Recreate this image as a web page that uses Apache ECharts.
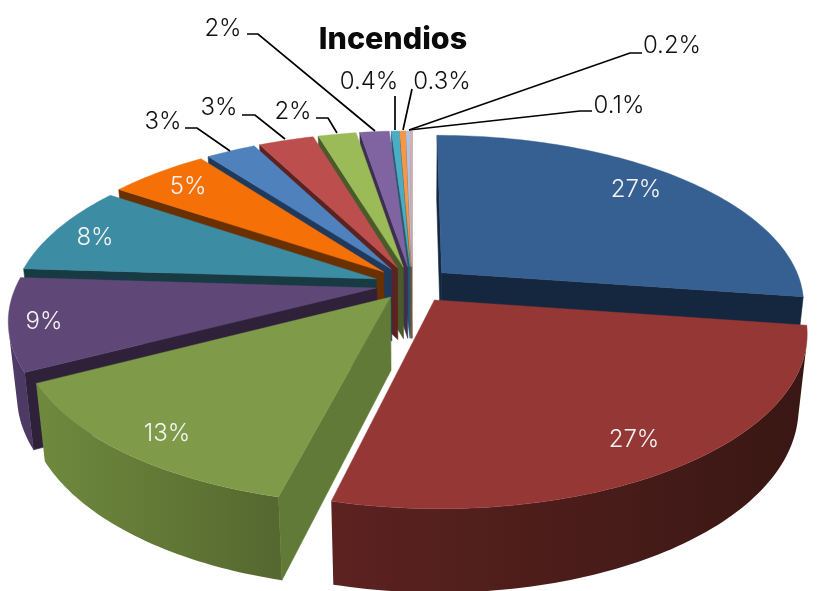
<!DOCTYPE html>
<html><head><meta charset="utf-8">
<style>html,body{margin:0;padding:0;background:#fff}#c{width:821px;height:591px}</style>
<script src="https://cdn.jsdelivr.net/npm/echarts@6/dist/echarts.min.js"></script>
</head><body><div id="c"></div>
<script>
// ---- data ----
const titleText = 'Incendios';
const sliceValues = [27.3, 26.6, 13.39, 8.7, 8.49, 5.3, 2.65, 2.95, 2.03, 1.57, 0.4, 0.3, 0.2, 0.1];
const sliceLabels = ['27%','27%','13%','9%','8%','5%','3%','3%','2%','2%','0.4%','0.3%','0.2%','0.1%'];

// ---- styles ----
const topColors  = ['#376092','#953735','#7F9A48','#5F4878','#3C8CA4','#F57007','#4F81BD','#BC4F4D','#9BBB59','#8064A2','#4BACC6','#F79646','#AFC3E0','#DDB0B0'];
const faceColors = ['#14273F','#3A1715','#627A38','#2E2139','#173A43','#6B3000','#1F3A5C','#5A2321','#4A5A28','#3E2F50','#235B69','#8A4A10','#50607A','#7A5050'];
const sideStart  = ['#14273F','#371613','#55682F','#4C3A64','#173A43','#6B3000','#1F3A5C','#5A2321','#4A5A28','#3E2F50','#235B69','#8A4A10','#50607A','#7A5050'];
const sideEnd    = ['#14273F','#5C2220','#6F8A3E','#54416F','#173A43','#6B3000','#1F3A5C','#5A2321','#4A5A28','#3E2F50','#235B69','#8A4A10','#50607A','#7A5050'];
const explodeBy  = [0.11,0.11,0.095,0.10,0.105,0.11,0.11,0.11,0.11,0.11,0.11,0.11,0.11,0.11];
// text anchor (centre) and leader-line route per label; no line = inside label
const labelLayout = [
  {x:636,y:189.5,c:'#f4f4f4'},{x:634,y:439.5,c:'#f4f4f4'},{x:167,y:433.5,c:'#f4f4f4'},{x:44,y:321.5,c:'#f4f4f4'},
  {x:95,y:237.5,c:'#f4f4f4'},{x:188,y:186.5,c:'#f4f4f4'},
  {x:163,y:121.5,line:[[185,128],[197,128],[230,151]]},
  {x:219,y:107.5,line:[[242,115],[255,115],[285,139]]},
  {x:293,y:111.5,line:[[316,118],[328,118],[337,133]]},
  {x:223,y:28.5,line:[[247,34],[258,34],[375,131]]},
  {x:369,y:81.5,line:[[395,96],[395,130]]},
  {x:442,y:81.5,line:[[412,89],[403,130]]},
  {x:672,y:45.5,line:[[642,53],[630,53],[409,130]]},
  {x:619,y:105.5,line:[[592,111],[580,111],[409,130]]}
];
const cam = {cx:412, cy:284.5, K:360, D:5, tilt:27.4, height:0.232};
const font = '300 24px Inter, "Open Sans", sans-serif';

const total = sliceValues.reduce((a,b)=>a+b,0);
const s = Math.sin(cam.tilt*Math.PI/180), c = Math.cos(cam.tilt*Math.PI/180), f = cam.K*cam.D;
function proj(X,Y,Z){
  const d = cam.D - Y*c - Z*s;
  return [cam.cx + f*X/d, cam.cy + f*(Y*s - Z*c)/d];
}
function area(p){let a=0;for(let i=0;i<p.length;i++){const q=p[(i+1)%p.length];a+=p[i][0]*q[1]-q[0]*p[i][1];}return a;}
function hex(h){return [1,3,5].map(i=>parseInt(h.substr(i,2),16));}
function lerp(a,b,t){const A=hex(a),B=hex(b);return 'rgb('+A.map((v,i)=>Math.round(v+(B[i]-v)*t)).join(',')+')';}

let acc=0;
const wedges = sliceValues.map((v,i)=>{const a0=acc/total*2*Math.PI;acc+=v;const a1=acc/total*2*Math.PI;return {i,a0,a1,mid:(a0+a1)/2};});
const order = wedges.slice().sort((p,q)=>(-Math.cos(p.mid))-(-Math.cos(q.mid))).map(w=>w.i);

function renderSlice(params, api){
  const w = wedges[api.value(0)], i = w.i;
  const ex = explodeBy[i]*Math.sin(w.mid), ey = -explodeBy[i]*Math.cos(w.mid);
  const P=(r,a,z)=>proj(ex+r*Math.sin(a), ey-r*Math.cos(a), z);
  const H=-cam.height, kids=[];
  const add=(pts,col)=>{ if(area(pts)<0) kids.push({type:'polygon',shape:{points:pts},style:{fill:col,stroke:col,lineWidth:0.6}}); };
  add([P(0,0,0),P(1,w.a0,0),P(1,w.a0,H),P(0,0,H)],faceColors[i]);
  add([P(1,w.a1,0),P(0,0,0),P(0,0,H),P(1,w.a1,H)],faceColors[i]);
  const n=Math.max(2,Math.ceil((w.a1-w.a0)/0.02));
  const topEdge=[], botEdge=[]; let tFirst=null,tLast=null;
  for(let k=0;k<n;k++){
    const a=w.a0+(w.a1-w.a0)*k/n,b=w.a0+(w.a1-w.a0)*(k+1)/n;
    if(area([P(1,a,0),P(1,b,0),P(1,b,H),P(1,a,H)])<0){
      if(tFirst===null){tFirst=k/n;topEdge.push(P(1,a,0));botEdge.push(P(1,a,H));}
      tLast=(k+1)/n;topEdge.push(P(1,b,0));botEdge.push(P(1,b,H));
    }
  }
  if(topEdge.length){
    const x0=topEdge[0][0],x1=topEdge[topEdge.length-1][0];
    const col={type:'linear',global:true,x:x0,y:0,x2:x1,y2:0,colorStops:[
      {offset:0,color:lerp(sideStart[i],sideEnd[i],tFirst)},{offset:1,color:lerp(sideStart[i],sideEnd[i],tLast)}]};
    kids.push({type:'polygon',shape:{points:topEdge.concat(botEdge.slice().reverse())},style:{fill:col}});
  }
  const top=[P(0,0,0)];
  for(let k=0;k<=n;k++) top.push(P(1,w.a0+(w.a1-w.a0)*k/n,0));
  kids.push({type:'polygon',shape:{points:top},style:{fill:topColors[i],stroke:topColors[i],lineWidth:0.4}});
  return {type:'group',children:kids};
}
function renderLabel(params, api){
  const i=api.value(0), L=labelLayout[i], kids=[];
  if(L.line) kids.push({type:'polyline',shape:{points:L.line},style:{fill:null,stroke:'#000',lineWidth:1.7}});
  kids.push({type:'text',style:{x:L.x,y:L.y,text:sliceLabels[i],font:font,fill:L.c||'#111',align:'center',verticalAlign:'middle'}});
  return {type:'group',children:kids};
}
const chart = echarts.init(document.getElementById('c'),null,{renderer:'canvas'});
chart.setOption({
  animation:false,
  backgroundColor:'#fff',
  title:{text:titleText,left:388,top:19,textAlign:'center',textStyle:{fontFamily:'Inter, "Open Sans", sans-serif',fontWeight:800,fontSize:30.5,color:'#0a0a0a'}},
  series:[
    {type:'custom',coordinateSystem:'none',silent:true,z:2,renderItem:renderSlice,data:order.map(i=>[i,sliceValues[i]])},
    {type:'custom',coordinateSystem:'none',silent:true,z:3,renderItem:renderLabel,data:sliceLabels.map((t,i)=>[i,sliceValues[i]])}
  ]
});
</script></body></html>
